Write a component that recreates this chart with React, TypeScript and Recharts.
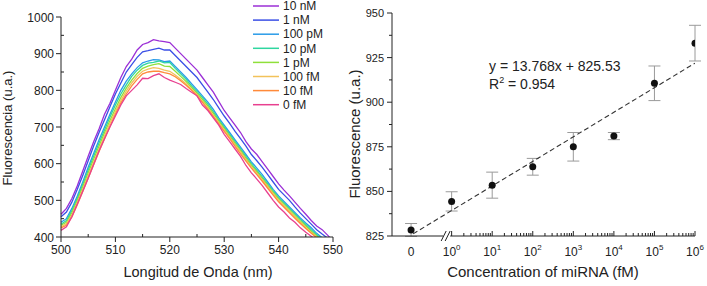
import { LineChart, Line, XAxis, YAxis, ScatterChart, Scatter, ErrorBar, ReferenceDot } from 'recharts';

const FONT = "'Liberation Sans', Arial, sans-serif";
const INK = '#222';

// espectros de emisión (nm vs u.a.)
const wavelength = [
  500, 501, 502, 503, 504, 505, 506, 507, 508, 509, 510, 511, 512, 513, 514, 515, 516, 517, 518, 519, 520, 521, 522, 523, 524, 525,
  526, 527, 528, 529, 530, 531, 532, 533, 534, 535, 536, 537, 538, 539, 540, 541, 542, 543, 544, 545, 546, 547, 548, 549, 550,
];
const nM10 = [
  462, 478, 505, 540, 580, 620, 660, 695, 735, 765, 800, 835, 865, 885, 910, 925, 930, 938, 935, 933, 930, 915, 900, 885, 870, 855,
  835, 815, 795, 770, 745, 725, 705, 685, 660, 640, 625, 605, 585, 565, 545, 528, 512, 495, 478, 462, 445, 430, 420, 405, 390,
];
const nM1 = [
  455, 468, 495, 530, 568, 608, 648, 685, 720, 755, 790, 820, 850, 870, 890, 905, 908, 912, 915, 910, 910, 895, 880, 865, 850, 835,
  815, 795, 775, 752, 730, 710, 688, 668, 648, 625, 608, 590, 570, 550, 530, 515, 500, 482, 465, 450, 435, 420, 408, 397, 385,
];
const pM100 = [
  440, 450, 478, 512, 550, 590, 628, 665, 700, 735, 768, 800, 825, 845, 862, 875, 880, 884, 883, 878, 880, 865, 850, 835, 818, 802,
  785, 768, 748, 725, 705, 685, 665, 645, 625, 605, 588, 570, 550, 530, 512, 497, 482, 467, 452, 438, 425, 410, 398, 388, 378,
];
const pM10 = [
  435, 445, 472, 506, 544, 583, 620, 657, 692, 727, 760, 790, 815, 838, 855, 868, 874, 876, 880, 875, 876, 860, 845, 830, 812, 797,
  780, 762, 742, 720, 700, 680, 660, 640, 620, 600, 582, 564, 545, 526, 508, 493, 478, 463, 448, 434, 420, 406, 395, 384, 374,
];
const pM1 = [
  432, 440, 466, 500, 537, 575, 612, 648, 684, 718, 750, 780, 806, 828, 846, 860, 866, 870, 873, 866, 865, 852, 838, 824, 808, 792,
  775, 757, 737, 716, 696, 676, 655, 636, 615, 596, 578, 560, 541, 522, 504, 489, 474, 459, 444, 430, 416, 403, 392, 382, 372,
];
const fM100 = [
  428, 436, 460, 494, 530, 568, 604, 640, 676, 710, 742, 772, 798, 820, 838, 852, 858, 862, 860, 855, 852, 842, 830, 818, 803, 788,
  770, 752, 732, 712, 692, 672, 651, 632, 611, 592, 574, 556, 537, 518, 500, 485, 470, 455, 440, 426, 412, 400, 389, 379, 370,
];
const fM10 = [
  425, 432, 455, 488, 524, 561, 597, 633, 668, 702, 735, 765, 790, 812, 830, 845, 850, 852, 852, 848, 845, 837, 826, 814, 800, 785,
  767, 748, 728, 708, 688, 668, 647, 627, 607, 588, 570, 552, 533, 514, 496, 481, 466, 451, 437, 423, 410, 398, 387, 377, 368,
];
const fM0 = [
  418, 428, 455, 490, 525, 560, 598, 635, 668, 700, 730, 760, 785, 800, 815, 833, 832, 840, 845, 835, 828, 822, 816, 805, 795, 785,
  760, 745, 725, 705, 680, 660, 640, 620, 595, 575, 558, 540, 520, 500, 482, 468, 452, 440, 425, 413, 402, 390, 380, 372, 365,
];

const seriesNames = ['10 nM', '1 nM', '100 pM', '10 pM', '1 pM', '100 fM', '10 fM', '0 fM'];
const seriesColors = ['#9b2fd6', '#3a4fe6', '#2a9be8', '#2fd6a0', '#8fe03a', '#f2c25a', '#ff8a3a', '#e8408f'];
const seriesValues = [nM10, nM1, pM100, pM10, pM1, fM100, fM10, fM0];

const yTicksLeft = [400, 450, 500, 550, 600, 650, 700, 750, 800, 850, 900, 950, 1000];
const xTicksLeft = [500, 505, 510, 515, 520, 525, 530, 535, 540, 545, 550];

// calibración
const concPos = [0, 1, 2, 3, 4, 5, 6, 7];
const concExp = [null, 0, 1, 2, 3, 4, 5, 6];
const fluorMean = [828.4, 844.4, 853.5, 863.8, 875, 881, 910.6, 933.1];
const fluorErr = [3.6, 5.4, 7.3, 4.7, 8, 2, 9.7, 10];
const fitX = [0.05, 7];
const fitY = [826.2, 921.9];
const yTicksRight = [825, 837.5, 850, 862.5, 875, 887.5, 900, 912.5, 925, 937.5, 950];

const spectra = wavelength.map((w, i) => {
  const row: Record<string, number> = { w };
  seriesValues.forEach((s, k) => (row['s' + k] = s[i]));
  return row;
});
const points = concPos.map((x, i) => ({ x, y: fluorMean[i], err: fluorErr[i] }));
const fitLine = fitX.map((x, i) => ({ x, y: fitY[i] }));

// marcas menores logarítmicas
const xTicksRight: number[] = [...concPos];
for (let d = 1; d < 7; d++) for (let k = 2; k < 10; k++) xTicksRight.push(d + Math.log10(k));

const LeftYTick = ({ x, y, payload }: any) => {
  const major = payload.value % 100 === 0;
  return (
    <g>
      <line x1={x} x2={major ? x - 5 : x + 3} y1={y} y2={y} stroke={INK} />
      {major && (
        <text x={x - 7} y={y} dy={4.5} textAnchor="end" fontSize={12} fill={INK} fontFamily={FONT}>
          {payload.value}
        </text>
      )}
    </g>
  );
};

const LeftXTick = ({ x, y, payload }: any) => {
  const major = payload.value % 10 === 0;
  return (
    <g>
      <line x1={x} x2={x} y1={y} y2={major ? y + 5 : y - 3} stroke={INK} />
      {major && (
        <text x={x} y={y} dy={17} textAnchor="middle" fontSize={12} fill={INK} fontFamily={FONT}>
          {payload.value}
        </text>
      )}
    </g>
  );
};

const RightYTick = ({ x, y, payload }: any) => {
  const major = payload.value % 25 === 0;
  return (
    <g>
      <line x1={x} x2={major ? x - 5 : x - 3} y1={y} y2={y} stroke={INK} />
      {major && (
        <text x={x - 8} y={y} dy={4} textAnchor="end" fontSize={11} fill={INK} fontFamily={FONT}>
          {payload.value}
        </text>
      )}
    </g>
  );
};

const RightXTick = ({ x, y, payload }: any) => {
  const v = payload.value;
  const idx = concPos.indexOf(v);
  if (idx === 0) {
    return (
      <text x={x} y={y} dy={20} textAnchor="middle" fontSize={12} fill={INK} fontFamily={FONT}>
        0
      </text>
    );
  }
  const major = idx > 0;
  return (
    <g>
      <line x1={x} x2={x} y1={y} y2={major ? y - 5 : y - 3} stroke={INK} />
      {major && (
        <text x={x} y={y} dy={20} textAnchor="middle" fontSize={12} fill={INK} fontFamily={FONT}>
          10
          <tspan fontSize={8} dy={-6}>
            {concExp[idx]}
          </tspan>
        </text>
      )}
    </g>
  );
};

const AxisBreak = ({ cx, cy }: any) => (
  <g>
    <rect x={cx - 4} y={cy - 2} width={7} height={4} fill="#fff" />
    <line x1={cx - 6} y1={cy + 5} x2={cx - 1} y2={cy - 5} stroke={INK} />
    <line x1={cx - 2} y1={cy + 5} x2={cx + 3} y2={cy - 5} stroke={INK} />
  </g>
);

const Dot = ({ cx, cy }: any) => <circle cx={cx} cy={cy} r={3.5} fill="#111" />;

export default function App() {
  return (
    <div style={{ position: 'absolute', left: 0, top: 0, width: 707, height: 286, background: '#fff', fontFamily: FONT }}>
      <div style={{ position: 'absolute', left: 0, top: 0 }}>
        <LineChart width={360} height={286} data={spectra} margin={{ top: 17, right: 27, bottom: 0, left: 0 }}>
          <XAxis
            dataKey="w"
            type="number"
            domain={[500, 550]}
            ticks={xTicksLeft}
            interval={0}
            height={49}
            tickLine={false}
            tickSize={0}
            tickMargin={0}
            tick={<LeftXTick />}
            stroke={INK}
          />
          <YAxis
            type="number"
            domain={[400, 1000]}
            allowDataOverflow
            ticks={yTicksLeft}
            interval={0}
            width={61}
            tickLine={false}
            tickSize={0}
            tickMargin={0}
            tick={<LeftYTick />}
            stroke={INK}
          />
          {seriesNames.map((name, k) => (
            <Line
              key={name}
              name={name}
              dataKey={'s' + k}
              stroke={seriesColors[k]}
              strokeWidth={1.3}
              dot={false}
              type="linear"
              isAnimationActive={false}
            />
          ))}
        </LineChart>
      </div>
      <div style={{ position: 'absolute', left: 340, top: 0 }}>
        <ScatterChart width={367} height={286} margin={{ top: 13, right: 12, bottom: 0, left: 0 }}>
          <XAxis
            dataKey="x"
            type="number"
            domain={[-0.47, 7]}
            allowDataOverflow
            ticks={xTicksRight}
            interval={0}
            height={50}
            tickLine={false}
            tickSize={0}
            tickMargin={0}
            tick={<RightXTick />}
            stroke={INK}
          />
          <YAxis
            dataKey="y"
            type="number"
            domain={[825, 950]}
            allowDataOverflow
            ticks={yTicksRight}
            interval={0}
            width={52}
            tickLine={false}
            tickSize={0}
            tickMargin={0}
            tick={<RightYTick />}
            stroke={INK}
          />
          <Scatter
            data={fitLine}
            line={{ stroke: '#333', strokeWidth: 1.1, strokeDasharray: '5 3' }}
            shape={() => <g />}
            isAnimationActive={false}
          />
          <Scatter data={points} shape={<Dot />} isAnimationActive={false}>
            <ErrorBar dataKey="err" direction="y" width={6} stroke="#9a9a9a" strokeWidth={1} isAnimationActive={false} />
          </Scatter>
          <ReferenceDot x={0.89} y={825} ifOverflow="visible" shape={<AxisBreak />} />
        </ScatterChart>
      </div>
      <svg width={707} height={286} style={{ position: 'absolute', left: 0, top: 0, pointerEvents: 'none' }}>
        <g fontFamily={FONT} fill={INK}>
          <text transform="translate(12,128) rotate(-90)" textAnchor="middle" fontSize={13}>
            Fluorescencia (u.a.)
          </text>
          <text x={198} y={277} textAnchor="middle" fontSize={14.5}>
            Longitud de Onda (nm)
          </text>
          <text transform="translate(360,134) rotate(-90)" textAnchor="middle" fontSize={15}>
            Fluorescence (u.a.)
          </text>
          <text x={543} y={277} textAnchor="middle" fontSize={15}>
            Concentration of miRNA (fM)
          </text>
          <text x={489} y={71} fontSize={14}>
            y = 13.768x + 825.53
          </text>
          <text x={489} y={89} fontSize={14}>
            R<tspan fontSize={9} dy={-6}>2</tspan>
            <tspan dy={6}> = 0.954</tspan>
          </text>
          {seriesNames.map((name, k) => (
            <g key={name}>
              <line x1={253} x2={279} y1={6 + 14.1 * k} y2={6 + 14.1 * k} stroke={seriesColors[k]} strokeWidth={1.5} />
              <text x={283} y={6 + 14.1 * k} dy={4.2} fontSize={12}>
                {name}
              </text>
            </g>
          ))}
        </g>
      </svg>
    </div>
  );
}
